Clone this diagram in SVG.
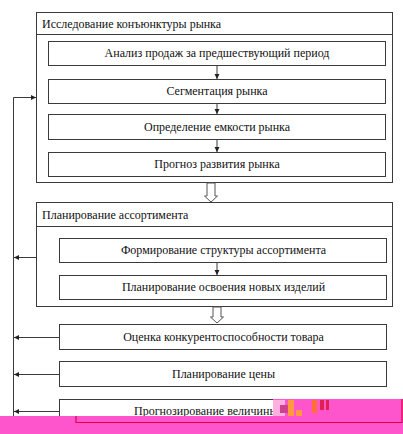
<svg xmlns="http://www.w3.org/2000/svg" width="403" height="434" viewBox="0 0 403 434">
<defs>
<style>
.box{fill:#fff;stroke:#3a3a3a;stroke-width:1}
.ln{fill:none;stroke:#3a3a3a;stroke-width:1}
.hol{fill:#fff;stroke:#555;stroke-width:1}
text{font-family:"Liberation Serif","Times New Roman",serif;font-size:12px;fill:#111}
.c{text-anchor:middle}
</style>
<marker id="ah" markerWidth="6" markerHeight="6" refX="5" refY="3" orient="auto" markerUnits="userSpaceOnUse">
<path d="M0,0.5 L5,3 L0,5.5 Z" fill="#222"/>
</marker>
</defs>
<rect width="403" height="434" fill="#fff"/>

<g id="group1">
<rect class="box" x="36.5" y="12.5" width="356" height="170"/>
<line class="ln" x1="36.5" y1="34.5" x2="392.5" y2="34.5"/>
<text x="42" y="28">Исследование конъюнктуры рынка</text>
</g>
<g id="n1"><rect class="box" x="48.5" y="41.5" width="337" height="24"/><text class="c" x="217" y="57">Анализ продаж за предшествующий период</text></g>
<g id="n2"><rect class="box" x="48.5" y="79.5" width="337" height="24"/><text class="c" x="217" y="95">Сегментация рынка</text></g>
<g id="n3"><rect class="box" x="48.5" y="114.5" width="337" height="25"/><text class="c" x="217" y="131">Определение емкости рынка</text></g>
<g id="n4"><rect class="box" x="48.5" y="152.5" width="337" height="24"/><text class="c" x="217" y="168">Прогноз развития рынка</text></g>

<g id="group2">
<rect class="box" x="36.5" y="202.5" width="356" height="104"/>
<line class="ln" x1="36.5" y1="226.5" x2="392.5" y2="226.5"/>
<text x="42" y="219">Планирование ассортимента</text>
</g>
<g id="n5"><rect class="box" x="59.5" y="238.5" width="327" height="24"/><text class="c" x="223.5" y="254">Формирование структуры ассортимента</text></g>
<g id="n6"><rect class="box" x="59.5" y="275.5" width="327" height="24"/><text class="c" x="223.5" y="291">Планирование освоения новых изделий</text></g>
<g id="n7"><rect class="box" x="59.5" y="324.5" width="327" height="25"/><text class="c" x="223.5" y="341">Оценка конкурентоспособности товара</text></g>
<g id="n8"><rect class="box" x="59.5" y="361.5" width="327" height="25"/><text class="c" x="223.5" y="378">Планирование цены</text></g>
<g id="n9"><rect class="box" x="59.5" y="399.5" width="327" height="24"/><text x="134" y="415">Прогнозирование величины</text></g>

<g id="connectors">
<line class="ln" x1="217" y1="65.5" x2="217" y2="79" marker-end="url(#ah)"/>
<line class="ln" x1="217" y1="103.5" x2="217" y2="114" marker-end="url(#ah)"/>
<line class="ln" x1="217" y1="139.5" x2="217" y2="152" marker-end="url(#ah)"/>
<line class="ln" x1="217" y1="262.5" x2="217" y2="275" marker-end="url(#ah)"/>
<path class="hol" d="M207,183 L215,183 L215,196 L217.5,196 L211,202 L204.5,196 L207,196 Z"/>
<path class="hol" d="M213,307 L221,307 L221,317 L223.5,317 L217,323 L210.5,317 L213,317 Z"/>
<polyline class="ln" points="13.5,416 13.5,97.5 36,97.5" marker-end="url(#ah)"/>
<line class="ln" x1="36.5" y1="257.5" x2="14" y2="257.5" marker-end="url(#ah)"/>
<line class="ln" x1="59.5" y1="337.5" x2="14" y2="337.5" marker-end="url(#ah)"/>
<line class="ln" x1="59.5" y1="374.5" x2="14" y2="374.5" marker-end="url(#ah)"/>
<line class="ln" x1="59.5" y1="411.5" x2="14" y2="411.5" marker-end="url(#ah)"/>
</g>

<g id="overlay">
<rect x="273" y="399" width="130" height="18" fill="#ff55cc"/>
<rect x="273" y="400" width="12" height="16" fill="#ffb0e0"/>
<rect x="280" y="405" width="8" height="8" fill="#d04090"/>
<rect x="288" y="400" width="6" height="16" fill="#ff9a40"/>
<rect x="296" y="410" width="6" height="6" fill="#ff9a40"/>
<rect x="312" y="400" width="5" height="13" fill="#ff7030"/>
<rect x="320" y="400" width="4" height="10" fill="#e02050"/>
<rect x="326" y="400" width="3" height="10" fill="#e02050"/>
<rect x="0" y="416" width="403" height="18" fill="#ff55cc"/>
<polyline points="76,416 76,422.5 402,422.5 402,399" fill="none" stroke="#e0004a" stroke-width="1.2"/>
</g>
</svg>
